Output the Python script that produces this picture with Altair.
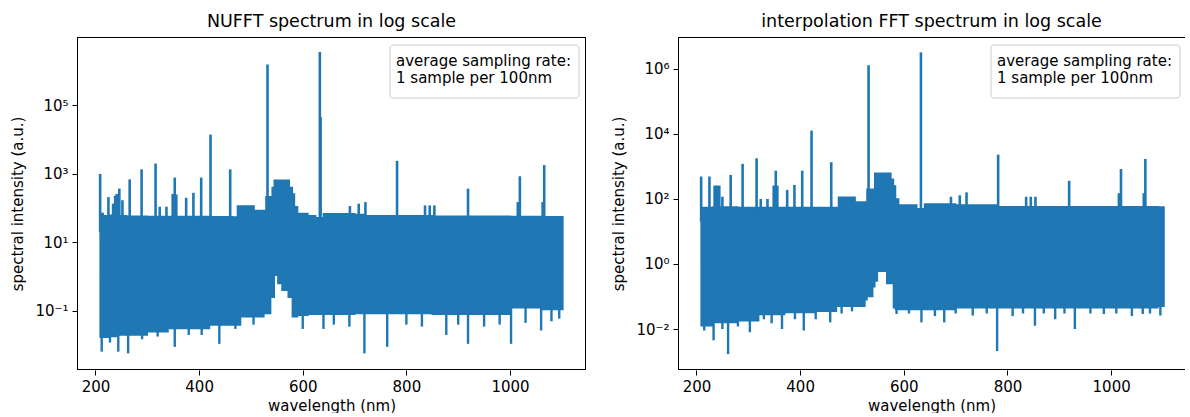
import altair as alt
import pandas as pd

FONT = "DejaVu Sans"
BLUE = "#1f77b4"

# ---------------- shared ----------------
x_ticks = [200, 400, 600, 800, 1000]
legend_lines = ["average sampling rate:", "1 sample per 100nm"]

# ---------------- NUFFT panel (left) ----------------
nufft_band_nm = [209, 215, 225, 240, 260, 300, 340, 380, 420, 465, 474, 480, 506, 525, 529, 538, 541, 545,
                 552, 560, 572, 574, 580, 584, 590, 610, 625, 640, 700, 720, 850, 1000, 1060, 1102]
nufft_band_hi = [70, 60, 62, 60, 58, 57, 57, 57, 56, 55, 115, 115, 85, 85, 215, 215, 400, 650,
                 650, 650, 650, 400, 260, 110, 70, 60, 52, 69, 65, 60, 58, 57, 56, 56]
nufft_band_lo = [0.017, 0.017, 0.018, 0.02, 0.02, 0.025, 0.031, 0.031, 0.039, 0.039, 0.039, 0.068, 0.068, 0.085,
                 0.085, 0.25, 0.25, 1.1, 0.63, 0.4, 0.25, 0.25, 0.068, 0.068, 0.075, 0.08, 0.08, 0.08, 0.085,
                 0.085, 0.08, 0.125, 0.11, 0.11]
nufft_peak_nm = [209, 225, 234, 238, 241, 246, 252, 266, 289, 316, 324, 337, 349, 353, 356, 375, 389, 404,
                 422, 460, 532, 633, 634.5, 691, 708, 721, 782, 836, 845, 854, 919, 1015, 1019, 1063, 1066]
nufft_peak_top = [1000, 210, 135, 230, 260, 370, 170, 690, 1350, 2000, 110, 110, 260, 780, 250, 200, 280, 780,
                  14000, 1350, 1550000, 3600000, 45000, 115, 135, 150, 2400, 120, 120, 120, 370, 150, 850, 150, 1800]
nufft_dip_nm = [212, 228, 244, 263, 290, 320, 353, 380, 405, 439, 470, 505, 600, 640, 660, 690, 719, 763,
                800, 830, 877, 900, 919, 950, 980, 1002, 1030, 1060, 1080, 1095]
nufft_dip_bottom = [0.0065, 0.012, 0.0065, 0.0058, 0.015, 0.018, 0.009, 0.02, 0.02, 0.011, 0.03, 0.04,
                    0.03, 0.03, 0.04, 0.035, 0.0058, 0.009, 0.04, 0.035, 0.02, 0.04, 0.011, 0.035, 0.04,
                    0.011, 0.045, 0.027, 0.05, 0.06]
nufft_y_ticks = [0.1, 10, 1000, 100000]
nufft_y_domain = [0.0019, 9800000]

# ---------------- interpolation FFT panel (right) ----------------
interp_band_nm = [209, 232, 280, 320, 370, 430, 470, 474, 506, 525, 529, 540, 544, 549, 552, 567, 572, 575,
                  580, 584, 590, 625, 640, 700, 780, 1090, 1102]
interp_band_hi = [55, 57, 55, 55, 55, 55, 55, 112, 80, 80, 200, 200, 620, 620, 620, 620, 620, 400,
                  250, 100, 65, 50, 70, 65, 58, 57, 57]
interp_band_lo = [0.0126, 0.016, 0.018, 0.028, 0.032, 0.035, 0.05, 0.05, 0.05, 0.08, 0.1, 0.2, 0.3, 0.6,
                  0.6, 0.25, 0.25, 0.25, 0.045, 0.04, 0.04, 0.04, 0.04, 0.045, 0.045, 0.05, 0.05]
interp_peak_nm = [209, 225, 235, 238, 241, 244, 250, 266, 289, 316, 324, 337, 349, 353, 356, 375, 389, 404,
                  422, 460, 532, 633, 691, 708, 721, 782, 836, 845, 854, 919, 1015, 1019, 1063, 1066]
interp_peak_top = [490, 490, 257, 257, 257, 257, 117, 550, 1200, 1780, 100, 100, 257, 740, 257, 190, 270, 740,
                   12600, 1350, 1300000, 3200000, 117, 130, 160, 2300, 117, 117, 117, 360, 150, 830, 150, 1700]
interp_dip_nm = [215, 233, 250, 261, 280, 303, 330, 345, 365, 390, 407, 430, 458, 480, 500, 586, 610, 634,
                 660, 678, 700, 733, 760, 780, 810, 830, 853, 870, 892, 910, 930, 960, 986, 1010, 1040,
                 1061, 1075, 1095]
interp_dip_bottom = [0.009, 0.0045, 0.01, 0.0017, 0.012, 0.008, 0.02, 0.015, 0.01, 0.02, 0.009, 0.02, 0.016,
                     0.03, 0.035, 0.029, 0.03, 0.016, 0.025, 0.016, 0.03, 0.026, 0.03, 0.0021, 0.025, 0.03,
                     0.0126, 0.03, 0.02, 0.03, 0.01, 0.03, 0.029, 0.03, 0.025, 0.029, 0.03, 0.026]
interp_y_ticks = [0.01, 1, 100, 10000, 1000000]
interp_y_domain = [0.00055, 9550000]

PLOT_H = 333
SUP = "['⁰','¹','²','³','⁴','⁵','⁶','⁷','⁸','⁹']"
LABEL_EXPR = ("'10' + (round(log(datum.value)/LN10) < 0 ? '⁻' : '') + "
              + SUP + "[abs(round(log(datum.value)/LN10))]")


def panel(title, band_nm, band_hi, band_lo, pk_nm, pk_top, dp_nm, dp_bot,
          x_domain, y_domain, y_ticks, width, right_border):
    band = pd.DataFrame({"wl": band_nm, "hi": band_hi, "lo": band_lo})
    peaks = pd.DataFrame({"wl": pk_nm, "hi": pk_top, "lo": [20] * len(pk_nm)})
    dips = pd.DataFrame({"wl": dp_nm, "hi": [1] * len(dp_nm), "lo": dp_bot})

    xs = alt.Scale(domain=x_domain, nice=False, zero=False)
    ys = alt.Scale(type="log", domain=y_domain, nice=False)
    xax = alt.Axis(values=x_ticks, title="wavelength (nm)", format="d")
    yax = alt.Axis(values=y_ticks, title="spectral intensity (a.u.)", labelExpr=LABEL_EXPR)

    def enc(ch):
        return ch.encode(
            x=alt.X("wl:Q", scale=xs, axis=xax),
            y=alt.Y("hi:Q", scale=ys, axis=yax),
            y2="lo:Q",
        )

    area = enc(alt.Chart(band).mark_area(interpolate="step-after", color=BLUE, opacity=1,
                                         stroke=BLUE, strokeWidth=1.5))
    pk = enc(alt.Chart(peaks).mark_rule(color=BLUE, strokeWidth=2.6))
    dp = enc(alt.Chart(dips).mark_rule(color=BLUE, strokeWidth=2.4))

    txt_df = pd.DataFrame({"t": ["\n".join(legend_lines)]})
    box = alt.Chart(txt_df).mark_rect(fill="white", fillOpacity=0.85, stroke="#cccccc",
                                      strokeWidth=1, cornerRadius=3).encode(
        x=alt.value(width - 196 if right_border else width - 194),
        x2=alt.value(width - 7 if right_border else width - 5),
        y=alt.value(8), y2=alt.value(61))
    txt = alt.Chart(txt_df).mark_text(align="left", baseline="middle", lineBreak="\n",
                                      lineHeight=17.5, font=FONT, fontSize=15, color="black").encode(
        x=alt.value(width - 190 if right_border else width - 188),
        y=alt.value(23.5), text="t:N")

    frame_df = pd.DataFrame({"k": [0]})
    frames = [
        alt.Chart(frame_df).mark_rule(color="black", strokeWidth=1).encode(
            x=alt.value(0), x2=alt.value(width), y=alt.value(0.5)),
        alt.Chart(frame_df).mark_rule(color="black", strokeWidth=1).encode(
            x=alt.value(0), x2=alt.value(width), y=alt.value(PLOT_H - 0.5)),
        alt.Chart(frame_df).mark_rule(color="black", strokeWidth=1).encode(
            x=alt.value(0.5), y=alt.value(0), y2=alt.value(PLOT_H)),
    ]
    if right_border:
        frames.append(alt.Chart(frame_df).mark_rule(color="black", strokeWidth=1).encode(
            x=alt.value(width - 0.5), y=alt.value(0), y2=alt.value(PLOT_H)))

    return alt.layer(area, pk, dp, *frames, box, txt).properties(
        width=width, height=PLOT_H,
        title=alt.TitleParams(title, font=FONT, fontSize=17.5, fontWeight="normal",
                              color="black", anchor="middle", offset=6),
    )


left = panel("NUFFT spectrum in log scale", nufft_band_nm, nufft_band_hi, nufft_band_lo,
             nufft_peak_nm, nufft_peak_top, nufft_dip_nm, nufft_dip_bottom,
             [164.35, 1146.65], nufft_y_domain, nufft_y_ticks, 509, True)
right = panel("interpolation FFT spectrum in log scale", interp_band_nm, interp_band_hi, interp_band_lo,
              interp_peak_nm, interp_peak_top, interp_dip_nm, interp_dip_bottom,
              [164.35, 1142.5], interp_y_domain, interp_y_ticks, 507, False)

chart = alt.hconcat(left, right, spacing=92, bounds="flush").properties(
    padding={"left": 10, "top": 13, "right": 0, "bottom": 0}
).configure_view(stroke=None).configure_axis(
    grid=False, domain=False, ticks=True, tickColor="black", tickSize=5, tickWidth=1,
    labelFont=FONT, labelFontSize=15, labelColor="black", labelPadding=4,
    titleFont=FONT, titleFontSize=15, titleFontWeight="normal", titleColor="black",
    labelFlush=False, labelOverlap=False,
).configure_axisX(titlePadding=4).configure_axisY(titlePadding=9)

chart.save("out.html", embed_options={"renderer": "svg", "actions": False})
